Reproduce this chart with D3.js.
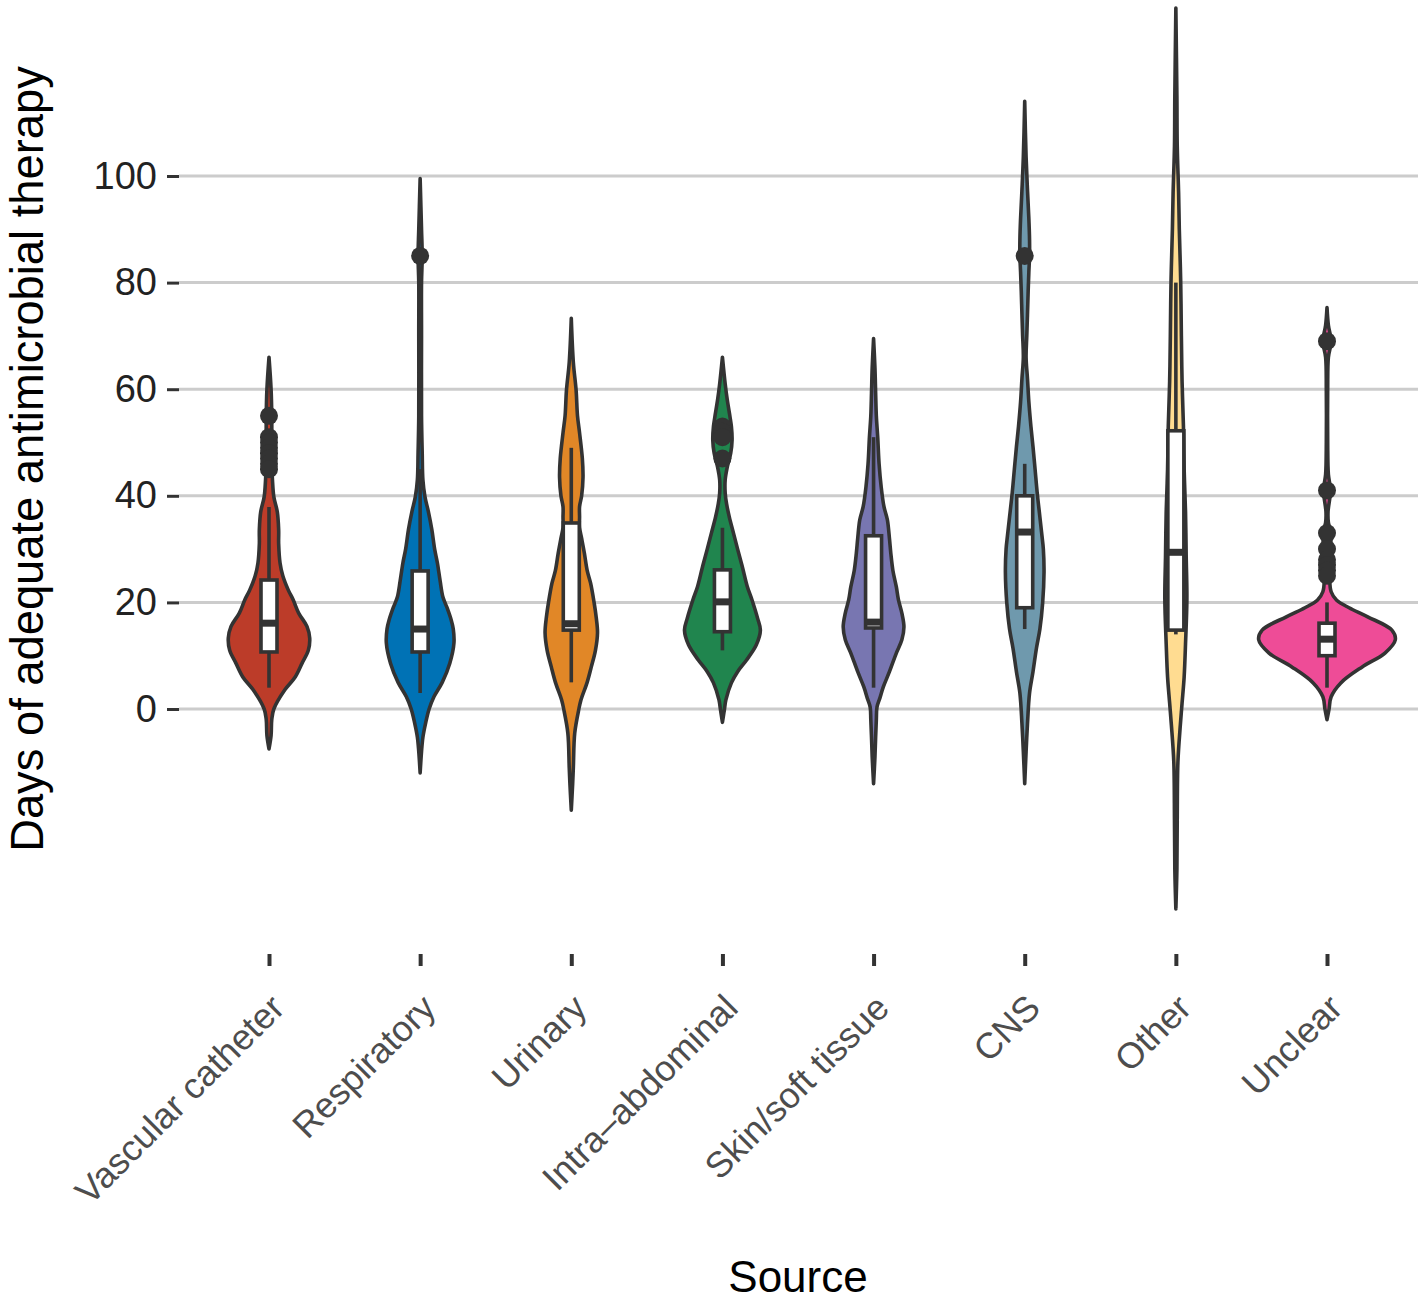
<!DOCTYPE html>
<html><head><meta charset="utf-8">
<script src="https://cdn.jsdelivr.net/npm/d3@7"></script>
<style>body{margin:0;background:#fff} svg{display:block}</style>
</head><body><svg id="c" width="1424" height="1304"></svg>
<script>
const categories = ["Vascular catheter","Respiratory","Urinary","Intra\u2013abdominal","Skin/soft tissue","CNS","Other","Unclear"];
const fillColors = ["#BC3C29","#0072B5","#E18727","#20854E","#7876B1","#6F99AD","#FFDC91","#EE4C97"];
const yTicks = [0,20,40,60,80,100];

// boxplot statistics (days)
const whiskerLow  = [4, 3, 5, 11, 4, 15, 14, 4];
const q1          = [10.7, 10.7, 14.8, 14.5, 15.2, 19, 14.8, 10];
const median      = [16.1, 15, 16, 20.1, 16.3, 33.2, 29.4, 13.1];
const q3          = [24.2, 25.9, 34.9, 26.1, 32.5, 40, 52.2, 16.1];
const whiskerHigh = [37.9, 45, 49, 34, 51, 46, 80, 20];
const outlierVascular = [55, 51, 50, 49, 48, 47, 46, 45];
const outlierRespiratory = [85];
const outlierUrinary = [];
const outlierIntra = [53, 52, 51, 47];
const outlierSkin = [];
const outlierCNS = [85];
const outlierOther = [];
const outlierUnclear = [69, 41, 33, 30, 28, 27, 26, 25];

// violin density profiles: [days, relative density]
const densVascular = [[-7.5,0],[-5,3],[-2,4],[0,7],[3.6,23],[6,38],[8.6,48],[11,57],[13.3,59],[15.5,55],[18,43],[20.5,35],[22.3,28],[25,20],[27.4,16],[31,14],[33.6,14],[37,12],[39.8,7],[43,5],[46,4],[50,4],[55,4],[60,3],[66,0]];
const densRespiratory = [[-12,0],[-8,2],[-5.3,4],[-2.6,8],[0,13],[2.3,20],[5,32],[8.6,43],[12.4,49],[15,48],[16.7,45],[19,39],[21,33],[24,29],[27.4,25],[30,21],[33.6,17],[37,12],[39.8,7],[43,4],[48,3],[55,2],[70,2],[80,2],[85,3],[90,2],[99.5,0]];
const densUrinary = [[-19,0],[-14,2],[-10.9,3],[-4.5,5],[0,11],[1.7,14],[5,23],[7.9,29],[11,35],[14.3,38],[17.3,36],[20,33],[23.6,28],[26,23],[29.2,19],[32,15],[34,12],[36,12],[38,12],[40,15],[43.5,17],[47,16],[51.8,12],[55,9],[59.8,7],[65,3],[73.3,0]];
const densIntra = [[-2.5,0],[0,3],[1.7,5],[4.9,13],[7,22],[9.2,35],[12,49],[14.8,55],[17,51],[20.4,43],[23,36],[26.6,29],[30,22],[33,16],[36,10],[38.5,6],[40.5,4],[43,4],[45.4,7],[48,12],[50.5,14],[53,13],[54.8,11],[58,7],[61,4],[66,0]];
const densSkin = [[-14,0],[-9,2],[-5.3,3],[-2,4],[0.4,5],[2,9],[4.1,14],[7,23],[10.5,33],[13,41],[15.4,44],[18,41],[20.5,36],[22.9,33],[26,28],[29.2,25],[32,23],[35.5,20],[38,15],[41.7,11],[46,8],[51,6],[55,4],[59.3,3],[64,2],[69.5,0]];
const densCNS = [[-14,0],[-8,2],[-2.8,4],[3,7],[7,12],[11.4,17],[15,22],[19.9,26],[25.7,28],[30,27],[32.5,25],[36,22],[40.7,18],[45,15],[49.2,12],[53,9],[57.6,6],[62,4],[66,2],[70,3],[74,4],[78.4,5],[82,6],[85,7],[88,7],[92,6],[97.4,4],[103.6,2],[114,0]];
const densOther = [[-37.5,0],[-30,1.5],[-20.8,2],[-9.9,3],[-3,6.5],[1.1,9],[6,12],[12.2,14],[20.8,16],[28.5,15],[37,14],[45,12],[53,11],[61.5,9],[70,8],[80.3,7],[90,5],[96.8,4],[105.6,2],[115,1.5],[131.5,0]];
const densUnclear = [[-2,0],[0,3],[2.3,6],[4.9,20],[7.9,51],[10.5,84],[13,99],[14.8,94],[17.3,59],[19,32],[20.4,14],[22,6],[24.2,4],[26,5],[28,6],[30,5],[33,6],[35,2],[37,1.5],[41,5],[44,2],[50,1],[60,1],[66,2],[69,6],[72,2],[75.3,0]];

const densities = [densVascular, densRespiratory, densUrinary, densIntra, densSkin, densCNS, densOther, densUnclear];
const outliers = [outlierVascular, outlierRespiratory, outlierUrinary, outlierIntra, outlierSkin, outlierCNS, outlierOther, outlierUnclear];

const svg = d3.select("#c");
const FONT = "'Liberation Sans', Arial, Helvetica, sans-serif";
const dark = "#333333";

const x = d3.scalePoint().domain(categories).range([269, 1327]);
const y = d3.scaleLinear().domain([0, 100]).range([709, 176]);
const w = d3.scaleLinear().domain([0, 100]).range([0, 69]);

// gridlines
svg.append("g").selectAll("line").data(yTicks).join("line")
  .attr("x1", 179).attr("x2", 1418)
  .attr("y1", d => y(d)).attr("y2", d => y(d))
  .attr("stroke", "#cccccc").attr("stroke-width", 3);

// y axis
const yAxis = svg.append("g").attr("transform", "translate(179,0)")
  .call(d3.axisLeft(y).tickValues(yTicks).tickSize(12).tickPadding(10).tickFormat(d3.format("d")));
yAxis.select(".domain").remove();
yAxis.selectAll(".tick line").attr("stroke", dark).attr("stroke-width", 3);
yAxis.selectAll(".tick text").attr("fill", "#222").attr("font-size", 38).attr("font-family", FONT);

// x axis
const xAxis = svg.append("g").attr("transform", "translate(0,954)")
  .call(d3.axisBottom(x).tickSize(12).tickPadding(0));
xAxis.select(".domain").remove();
xAxis.selectAll(".tick line").attr("stroke", dark).attr("stroke-width", 4);
xAxis.selectAll(".tick text")
  .attr("fill", "#4d4d4d").attr("font-size", 36).attr("font-family", FONT)
  .attr("text-anchor", "end").attr("dy", null).attr("y", null)
  .attr("transform", "translate(17,56) rotate(-45)");

// violins
const g = svg.append("g");
categories.forEach((c, i) => {
  const cx = x(c);
  const area = d3.area()
    .y(d => y(d[0]))
    .x0(d => cx - w(d[1]))
    .x1(d => cx + w(d[1]))
    .curve(d3.curveCatmullRom.alpha(0.5));
  g.append("path").datum(densities[i]).attr("d", area)
    .attr("fill", fillColors[i]).attr("stroke", dark).attr("stroke-width", 3.6)
    .attr("stroke-linejoin", "round");
});

// boxplots
const bw = 16;
categories.forEach((c, i) => {
  const cx = x(c);
  const bg = svg.append("g");
  bg.append("line").attr("x1", cx).attr("x2", cx)
    .attr("y1", y(q3[i])).attr("y2", y(whiskerHigh[i]))
    .attr("stroke", dark).attr("stroke-width", 3.6);
  bg.append("line").attr("x1", cx).attr("x2", cx)
    .attr("y1", y(q1[i])).attr("y2", y(whiskerLow[i]))
    .attr("stroke", dark).attr("stroke-width", 3.6);
  bg.append("rect").attr("x", cx - bw / 2).attr("width", bw)
    .attr("y", y(q3[i])).attr("height", y(q1[i]) - y(q3[i]))
    .attr("fill", "#fff").attr("stroke", dark).attr("stroke-width", 3.6);
  bg.append("line").attr("x1", cx - bw / 2).attr("x2", cx + bw / 2)
    .attr("y1", y(median[i])).attr("y2", y(median[i]))
    .attr("stroke", dark).attr("stroke-width", 7);
  bg.selectAll("circle").data(outliers[i]).join("circle")
    .attr("cx", cx).attr("cy", d => y(d)).attr("r", 9)
    .attr("fill", dark);
});

// titles
svg.append("text").attr("x", 798).attr("y", 1292).attr("text-anchor", "middle")
  .attr("font-family", FONT).attr("font-size", 44).attr("fill", "#000").text("Source");
svg.append("text").attr("transform", "translate(43,459) rotate(-90)").attr("text-anchor", "middle")
  .attr("font-family", FONT).attr("font-size", 45.3).attr("fill", "#000")
  .text("Days of adequate antimicrobial therapy");
</script></body></html>
